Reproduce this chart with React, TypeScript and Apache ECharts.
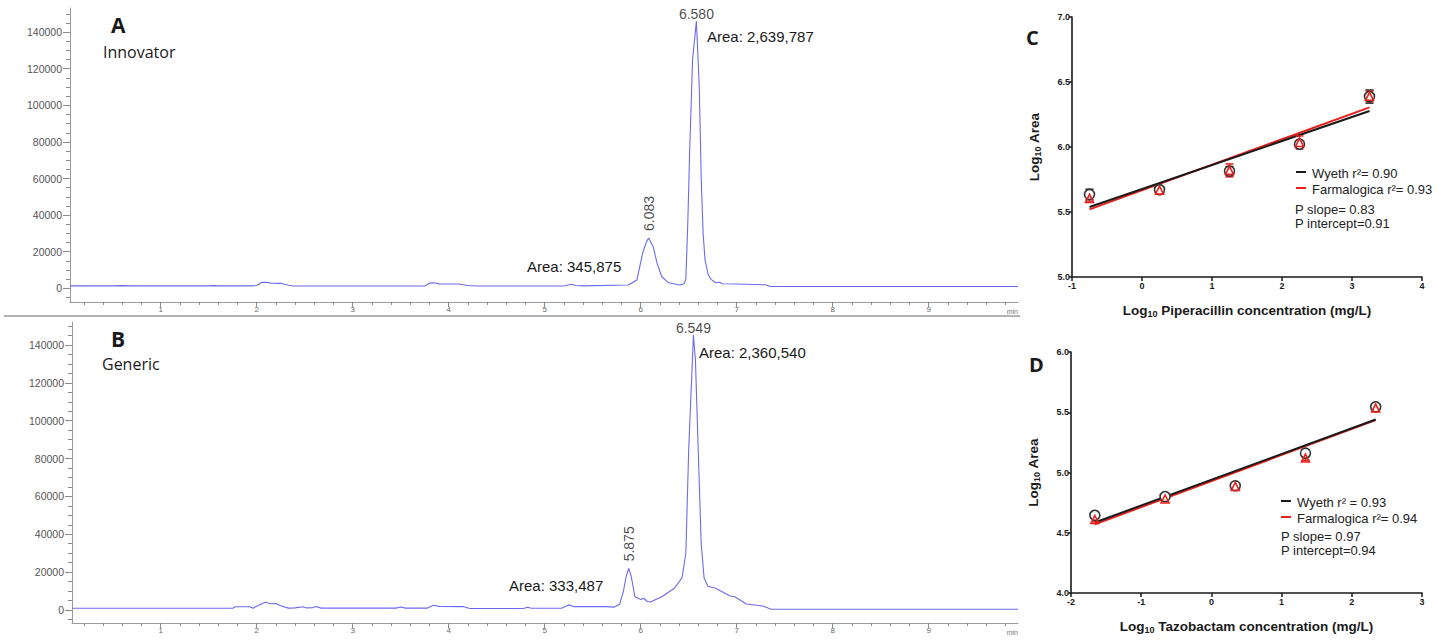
import React, { useEffect, useRef } from "react";
import * as echarts from "echarts";

// ---- Chromatogram A (Innovator): retention time (min) and detector signal ----
const minutesA = [
  0.06, 0.5, 0.6, 0.7, 1.5, 1.55, 1.6, 1.95, 2.0, 2.05, 2.1, 2.15, 2.25, 2.32, 2.38,
  3.75, 3.8, 3.85, 3.9, 4.1, 4.2, 4.3, 5.2, 5.28, 5.32, 5.4, 5.87, 5.96, 6.02, 6.06,
  6.083, 6.13, 6.17, 6.22, 6.29, 6.41, 6.45, 6.47, 6.49, 6.51, 6.54, 6.58, 6.61, 6.63,
  6.65, 6.67, 6.7, 6.73, 6.78, 6.82, 6.85, 7.0, 7.3, 7.35, 9.93,
];
const signalA = [
  1300, 1300, 1450, 1300, 1300, 1450, 1300, 1300, 1500, 3200, 3300, 2800, 2700, 1800, 1250,
  1250, 2800, 3000, 2400, 2300, 1500, 1250, 1250, 2200, 1500, 1300, 1800, 4500, 19300, 25500,
  27500, 22700, 13700, 6300, 3000, 1800, 2500, 5000, 35000, 75000, 125000, 146000, 110000, 60000,
  30000, 15500, 8000, 5000, 3000, 3300, 2500, 2300, 1900, 1000, 1000,
];
const labelledPeaksA = [6.58];
const rotatedPeaksA = [6.083];

// ---- Chromatogram B (Generic) ----
const minutesB = [
  0.08, 1.75, 1.78, 1.93, 1.96, 2.02, 2.09, 2.15, 2.2, 2.25, 2.33, 2.4, 2.48, 2.52, 2.58,
  2.62, 2.67, 3.45, 3.5, 3.55, 3.78, 3.84, 3.9, 4.15, 4.22, 4.78, 4.82, 4.86, 5.18, 5.25,
  5.3, 5.65, 5.72, 5.78, 5.82, 5.85, 5.875, 5.9, 5.94, 6.0, 6.03, 6.07, 6.1, 6.22, 6.35,
  6.43, 6.47, 6.5, 6.549, 6.57, 6.6, 6.63, 6.66, 6.7, 6.78, 6.93, 6.98, 7.1, 7.27, 7.36, 9.93,
];
const signalB = [
  900, 900, 1700, 1700, 900, 2500, 4100, 3300, 3400, 2200, 1000, 1100, 1700, 1100, 1200,
  1800, 1000, 1000, 1600, 1000, 1000, 2500, 1900, 1800, 800, 800, 1500, 900, 1000, 2700,
  1800, 1800, 1500, 3000, 10000, 18000, 22000, 18000, 7000, 5600, 6200, 4500, 4200, 7000, 11500,
  17000, 30000, 85000, 145300, 132000, 83000, 35000, 17000, 12500, 11500, 7400, 7000, 3200, 2100, 400, 400,
];
const labelledPeaksB = [6.549];
const rotatedPeaksB = [5.875];

const intensityTicks = [0, 20000, 40000, 60000, 80000, 100000, 120000, 140000];
const minuteTicks = [1, 2, 3, 4, 5, 6, 7, 8, 9];

// ---- Calibration C: piperacillin ----
const logPip = [-0.75, 0.25, 1.25, 2.25, 3.25];
const pipWyethMean = [5.635, 5.672, 5.815, 6.022, 6.388];
const pipWyethSd = [0.04, 0.015, 0.035, 0.02, 0.05];
const pipFarmMean = [5.605, 5.668, 5.82, 6.035, 6.39];
const pipFarmSd = [0.03, 0.02, 0.05, 0.05, 0.04];
const pipWyethFit = [[-0.75, 5.538], [3.25, 6.277]];
const pipFarmFit = [[-0.75, 5.52], [3.25, 6.305]];

// ---- Calibration D: tazobactam ----
const logTaz = [-1.66, -0.66, 0.34, 1.34, 2.34];
const tazWyethMean = [4.645, 4.8, 4.89, 5.16, 5.545];
const tazWyethSd = [0.02, 0.01, 0.01, 0.03, 0.01];
const tazFarmMean = [4.61, 4.78, 4.885, 5.12, 5.535];
const tazFarmSd = [0.02, 0.02, 0.01, 0.02, 0.01];
const tazWyethFit = [[-1.66, 4.585], [2.34, 5.44]];
const tazFarmFit = [[-1.66, 4.57], [2.34, 5.435]];

const TRACE = "#6b6bef";
const RED = "#e8201c";
const INK = "#1a1a1a";

// Apex points of a trace, picked out of its own arrays by retention time
function apexPoints(times: number[], signal: number[], picks: number[]) {
  return picks.map((t) => [t, signal[times.indexOf(t)]]);
}

function peakLabelSeries(axis: number, points: number[][], rotated: boolean) {
  return {
    type: "scatter",
    xAxisIndex: axis,
    yAxisIndex: axis,
    symbol: "circle",
    symbolSize: 0,
    silent: true,
    z: 6,
    data: points,
    itemStyle: { color: "rgba(0,0,0,0)" },
    label: rotated
      ? {
          show: true,
          position: "top",
          distance: 7,
          rotate: 90,
          align: "left",
          verticalAlign: "middle",
          formatter: (p: any) => p.value[0].toFixed(3),
          fontSize: 14,
          fontFamily: "Liberation Sans",
          color: "#1a1a1a",
        }
      : {
          show: true,
          position: "top",
          distance: 0,
          formatter: (p: any) => p.value[0].toFixed(3),
          fontSize: 14,
          fontFamily: "Liberation Sans",
          color: "#1a1a1a",
        },
  };
}

function range(start: number, end: number, step: number) {
  const out: number[] = [];
  for (let v = start; v <= end + 1e-9; v += step) out.push(+v.toFixed(3));
  return out;
}

function chromAxes(grid: number, xmin: number, xmax: number, ymin: number, ymax: number) {
  const x = [
    {
      type: "value", gridIndex: grid, min: xmin, max: xmax, position: "bottom",
      axisLine: { show: true, onZero: false, lineStyle: { color: "#9a9a9a", width: 1 } },
      axisTick: { show: true, customValues: minuteTicks, length: 5, lineStyle: { color: "#8a8a8a" } },
      axisLabel: {
        show: true, customValues: minuteTicks, formatter: (v: number) => String(v),
        fontSize: 8, color: "#666", margin: 3, fontFamily: "Liberation Sans",
      },
      splitLine: { show: false },
    },
    {
      type: "value", gridIndex: grid, min: xmin, max: xmax, position: "bottom",
      axisLine: { show: false, onZero: false },
      axisTick: { show: true, customValues: range(0.2, 9.8, 0.2), length: 3, lineStyle: { color: "#8a8a8a" } },
      axisLabel: { show: false },
      splitLine: { show: false },
    },
  ];
  const y = [
    {
      type: "value", gridIndex: grid, min: ymin, max: ymax, position: "left",
      axisLine: { show: true, onZero: false, lineStyle: { color: "#9a9a9a", width: 1 } },
      axisTick: { show: true, customValues: intensityTicks, length: 7, lineStyle: { color: "#8a8a8a" } },
      axisLabel: {
        show: true, customValues: intensityTicks, formatter: (v: number) => String(v),
        fontSize: 10.5, color: "#555", margin: 8, fontFamily: "Liberation Sans",
      },
      splitLine: { show: false },
    },
    {
      type: "value", gridIndex: grid, min: ymin, max: ymax, position: "left",
      axisLine: { show: false, onZero: false },
      axisTick: { show: true, customValues: range(-5000, 150000, 5000), length: 4, lineStyle: { color: "#8a8a8a" } },
      axisLabel: { show: false },
      splitLine: { show: false },
    },
  ];
  return { x, y };
}

const subRich = {
  sub: { fontSize: 9, fontWeight: "bold", fontFamily: "Liberation Sans", color: INK, padding: [6, 0, 0, 0] },
};

function calAxes(grid: number, xmin: number, xmax: number, ymin: number, ymax: number, xName: string) {
  const x = {
    type: "value", gridIndex: grid, min: xmin, max: xmax, interval: 1,
    name: xName, nameLocation: "middle", nameGap: 26,
    nameTextStyle: { fontSize: 13.5, fontWeight: "bold", fontFamily: "Liberation Sans", color: INK, rich: subRich },
    axisLine: { show: true, onZero: false, lineStyle: { color: INK, width: 1.6 } },
    axisTick: { show: true, length: 4, lineStyle: { color: INK, width: 1.5 } },
    axisLabel: { fontSize: 9, fontWeight: "bold", color: INK, margin: 4, fontFamily: "Liberation Sans" },
    splitLine: { show: false },
  };
  const y = {
    type: "value", gridIndex: grid, min: ymin, max: ymax, interval: 0.5,
    name: "Log{sub|10} Area", nameLocation: "middle", nameGap: 30, nameRotate: 90,
    nameTextStyle: { fontSize: 13.5, fontWeight: "bold", fontFamily: "Liberation Sans", color: INK, rich: subRich },
    axisLine: { show: true, onZero: false, lineStyle: { color: INK, width: 1.6 } },
    axisTick: { show: true, length: 3, lineStyle: { color: INK, width: 1.5 } },
    axisLabel: {
      fontSize: 9, fontWeight: "bold", color: INK, margin: 2, fontFamily: "Liberation Sans",
      formatter: (v: number) => v.toFixed(1),
    },
    splitLine: { show: false },
  };
  return { x, y };
}

function errorBars(xs: number[], means: number[], sds: number[], color: string, axis: number) {
  return {
    type: "custom",
    xAxisIndex: axis,
    yAxisIndex: axis,
    silent: true,
    z: 3,
    encode: { x: 0, y: [1, 2] },
    data: xs.map((x, i) => [x, means[i] - sds[i], means[i] + sds[i]]),
    renderItem: (_params: any, api: any) => {
      const lo = api.coord([api.value(0), api.value(1)]);
      const hi = api.coord([api.value(0), api.value(2)]);
      const w = 4;
      const style = { stroke: color, lineWidth: 1.5 };
      return {
        type: "group",
        children: [
          { type: "line", shape: { x1: lo[0], y1: lo[1], x2: hi[0], y2: hi[1] }, style },
          { type: "line", shape: { x1: hi[0] - w, y1: hi[1], x2: hi[0] + w, y2: hi[1] }, style },
          { type: "line", shape: { x1: lo[0] - w, y1: lo[1], x2: lo[0] + w, y2: lo[1] }, style },
        ],
      };
    },
  };
}

function calSeries(axis: number, xs: number[], wMean: number[], wSd: number[], fMean: number[], fSd: number[], wFit: number[][], fFit: number[][]) {
  return [
    {
      type: "line", xAxisIndex: axis, yAxisIndex: axis, data: fFit, symbol: "none", z: 2,
      lineStyle: { color: RED, width: 2 },
    },
    {
      type: "line", xAxisIndex: axis, yAxisIndex: axis, data: wFit, symbol: "none", z: 2,
      lineStyle: { color: INK, width: 2 },
    },
    errorBars(xs, wMean, wSd, INK, axis),
    errorBars(xs, fMean, fSd, RED, axis),
    {
      type: "scatter", xAxisIndex: axis, yAxisIndex: axis, symbol: "circle", symbolSize: 10, z: 4,
      data: xs.map((x, i) => [x, wMean[i]]),
      itemStyle: { color: "#ffffff", borderColor: "#333", borderWidth: 1.6, opacity: 1 },
    },
    {
      type: "scatter", xAxisIndex: axis, yAxisIndex: axis, symbol: "triangle", symbolSize: 8, z: 5,
      data: xs.map((x, i) => [x, fMean[i]]),
      itemStyle: { color: "rgba(255,255,255,0)", borderColor: RED, borderWidth: 1.6, opacity: 1 },
    },
  ];
}

function txt(x: number, y: number, text: string, size: number, opts: any = {}) {
  return {
    type: "text",
    x,
    y,
    silent: true,
    style: {
      text,
      fontSize: size,
      fontFamily: opts.family || "Liberation Sans",
      fontWeight: opts.weight || "normal",
      fill: opts.fill || "#1a1a1a",
      align: opts.align || "left",
      verticalAlign: "middle",
    },
  };
}

function legendLine(x: number, y: number, color: string) {
  return {
    type: "line",
    silent: true,
    shape: { x1: x, y1: y, x2: x + 10, y2: y },
    style: { stroke: color, lineWidth: 2 },
  };
}

export default function App() {
  const ref = useRef<HTMLDivElement>(null);

  useEffect(() => {
    if (!ref.current) return;
    const chart = echarts.init(ref.current, undefined, { renderer: "svg" });

    const a = chromAxes(0, 0.055, 9.93, -7500, 153200);
    const b = chromAxes(1, 0.076, 9.93, -6870, 152150);
    const c = calAxes(2, -1, 4, 5, 7, "Log{sub|10} Piperacillin concentration (mg/L)");
    const d = calAxes(3, -2, 3, 4, 6, "Log{sub|10} Tazobactam concentration (mg/L)");

    chart.setOption({
      animation: false,
      backgroundColor: "#ffffff",
      grid: [
        { left: 70, top: 8, width: 948, height: 294 },
        { left: 72, top: 322, width: 946, height: 301 },
        { left: 1072, top: 17, width: 350, height: 260 },
        { left: 1071, top: 352, width: 351, height: 241 },
      ],
      xAxis: [...a.x, ...b.x, c.x, d.x],
      yAxis: [...a.y, ...b.y, c.y, d.y],
      series: [
        {
          type: "line", xAxisIndex: 0, yAxisIndex: 0, symbol: "none",
          data: minutesA.map((t, i) => [t, signalA[i]]),
          lineStyle: { color: TRACE, width: 1.1 },
        },
        {
          type: "line", xAxisIndex: 2, yAxisIndex: 2, symbol: "none",
          data: minutesB.map((t, i) => [t, signalB[i]]),
          lineStyle: { color: TRACE, width: 1.1 },
        },
        peakLabelSeries(0, apexPoints(minutesA, signalA, labelledPeaksA), false),
        peakLabelSeries(0, apexPoints(minutesA, signalA, rotatedPeaksA), true),
        peakLabelSeries(2, apexPoints(minutesB, signalB, labelledPeaksB), false),
        peakLabelSeries(2, apexPoints(minutesB, signalB, rotatedPeaksB), true),
        ...calSeries(4, logPip, pipWyethMean, pipWyethSd, pipFarmMean, pipFarmSd, pipWyethFit, pipFarmFit),
        ...calSeries(5, logTaz, tazWyethMean, tazWyethSd, tazFarmMean, tazFarmSd, tazWyethFit, tazFarmFit),
      ],
      graphic: [
        // divider between the two chromatograms
        { type: "line", silent: true, shape: { x1: 4, y1: 316, x2: 1020, y2: 316 }, style: { stroke: "#666", lineWidth: 1.2 } },
        txt(111, 25, "A", 21, { weight: "bold", family: "Open Sans" }),
        txt(103, 52, "Innovator", 16, { family: "Open Sans" }),
        txt(111, 339, "B", 21, { weight: "bold", family: "Open Sans" }),
        txt(102, 364, "Generic", 16, { family: "Open Sans" }),
        txt(707, 36, "Area: 2,639,787", 15),
        txt(527, 266, "Area: 345,875", 15),
        txt(699, 352, "Area: 2,360,540", 15),
        txt(509, 585, "Area: 333,487", 15),
        txt(1018, 311, "min", 7, { align: "right", fill: "#777" }),
        txt(1018, 632, "min", 7, { align: "right", fill: "#777" }),
        txt(1026, 37, "C", 20, { weight: "bold", family: "Open Sans" }),
        txt(1029, 364, "D", 20, { weight: "bold", family: "Open Sans" }),
        // legend, panel C
        legendLine(1296, 172, INK),
        txt(1312, 173, "Wyeth r²= 0.90", 13, { fill: "#222" }),
        legendLine(1296, 188, RED),
        txt(1312, 189, "Farmalogica r²= 0.93", 13, { fill: "#222" }),
        txt(1295, 209, "P slope= 0.83", 13, { fill: "#222" }),
        txt(1295, 223, "P intercept=0.91", 13, { fill: "#222" }),
        // legend, panel D
        legendLine(1281, 501, INK),
        txt(1297, 502, "Wyeth r² = 0.93", 13, { fill: "#222" }),
        legendLine(1281, 517, RED),
        txt(1297, 518, "Farmalogica r²= 0.94", 13, { fill: "#222" }),
        txt(1281, 536, "P slope= 0.97", 13, { fill: "#222" }),
        txt(1281, 550, "P intercept=0.94", 13, { fill: "#222" }),
      ],
    });

    return () => chart.dispose();
  }, []);

  return (
    <div
      ref={ref}
      style={{ position: "absolute", left: 0, top: 0, width: 1443, height: 641, background: "#fff" }}
    />
  );
}
